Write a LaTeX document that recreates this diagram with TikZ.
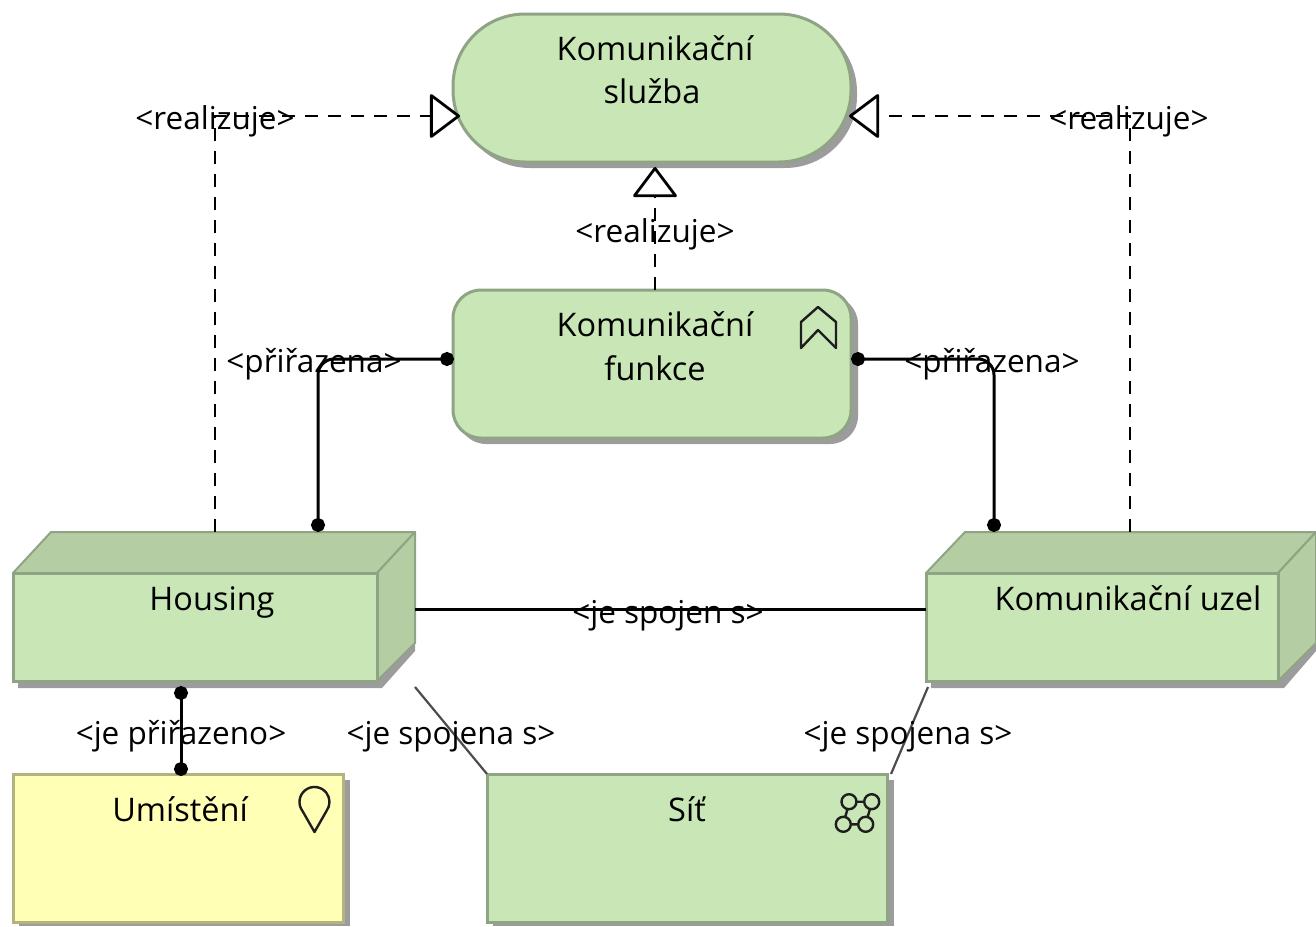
\documentclass[tikz,border=0pt]{standalone}
\usepackage{fontspec}
\setmainfont{Open Sans}
\usetikzlibrary{arrows.meta}
\definecolor{fillgreen}{HTML}{C9E6B6}
\definecolor{topgreen}{HTML}{B4CDA3}
\definecolor{edgegreen}{HTML}{8FA485}
\definecolor{fillyellow}{HTML}{FFFFB5}
\definecolor{edgeyellow}{HTML}{B3B37F}
\definecolor{shadowgrey}{HTML}{9C9C9C}
\definecolor{inkdark}{HTML}{1E1E1E}
\tikzset{
  shapebox/.style={draw=edgegreen,fill=fillgreen,line width=3pt,inner sep=0pt,outer sep=0pt},
  yellowbox/.style={draw=edgeyellow,fill=fillyellow,line width=3pt,inner sep=0pt,outer sep=0pt},
  ghost/.style={inner sep=0pt,outer sep=0pt},
  shadowfill/.style={fill=shadowgrey,draw=none},
  sideface/.style={fill=topgreen,draw=edgegreen,line width=2pt,line join=round},
  nodetext/.style={anchor=base,inner sep=0pt,font=\fontsize{32.5}{36}\selectfont,text=black},
  rellabel/.style={anchor=base,inner sep=0pt,font=\fontsize{31.5}{36}\selectfont,text=black},
  realizes/.style={line width=2.8pt,dash pattern=on 13pt off 10pt,
    -{Triangle[open,length=31pt,width=46pt,fill=white,line join=round]}},
  assigned/.style={line width=3pt,rounded corners=16pt},
  plainlink/.style={line width=3pt},
  thinlink/.style={line width=2.2pt,draw=black!70},
  iconline/.style={draw=inkdark,line width=2.4pt,line join=round}
}
\begin{document}
\begin{tikzpicture}[x=1pt,y=-1pt]
\useasboundingbox (0,0) rectangle (1316,926);
\clip (0,0) rectangle (1316,926);

% shadows
\fill[shadowfill,rounded corners=72pt] (458,20) rectangle (857,168);
\fill[shadowfill,rounded corners=28pt] (458,296) rectangle (858,444);
\fill[shadowfill] (18,600) -- (415,600) -- (415,651) -- (382,688) -- (18,688) -- cycle;
\fill[shadowfill] (931,600) -- (1316,600) -- (1316,651) -- (1284,688) -- (931,688) -- cycle;
\fill[shadowfill] (19,780) rectangle (350,926);
\fill[shadowfill] (493,780) rectangle (894,926);

% shapes
\node[shapebox,rounded corners=72pt,minimum width=398pt,minimum height=148pt] (service) at (652,88) {};
\node[shapebox,rounded corners=28pt,minimum width=398pt,minimum height=148pt] (func) at (652,364) {};

\node[ghost,minimum width=402pt,minimum height=149pt] (housingbox) at (214,606.5) {};
\draw[sideface] (13,573) -- (51,532) -- (415,532) -- (377,573) -- cycle;
\draw[sideface] (377,573) -- (415,532) -- (415,643) -- (377,681) -- cycle;
\node[shapebox,minimum width=364pt,minimum height=108pt] (housing) at (195,627) {};

\node[ghost,minimum width=390pt,minimum height=149pt] (uzelbox) at (1121,606.5) {};
\draw[sideface] (926,573) -- (965,532) -- (1316,532) -- (1278,573) -- cycle;
\draw[sideface] (1278,573) -- (1316,532) -- (1316,643) -- (1278,681) -- cycle;
\node[shapebox,minimum width=352pt,minimum height=108pt] (uzel) at (1102,627) {};

\node[yellowbox,minimum width=330pt,minimum height=148pt] (umisteni) at (178,848) {};
\node[shapebox,minimum width=400pt,minimum height=148pt] (sit) at (687,848) {};

% icons
\draw[iconline] (801,322) -- (818,307) -- (836,322) -- (836,348) -- (818,330) -- (801,348) -- cycle;
\draw[iconline] (314.5,832) -- (302.5,811) arc[start angle=217,end angle=-37,radius=15pt] -- cycle;
\draw[iconline] (849,801.7) circle[radius=7.5pt] (871.7,801.7) circle[radius=7.5pt]
  (843.3,824.3) circle[radius=7.5pt] (865.7,824.3) circle[radius=7.5pt]
  (856.5,801.7) -- (864.2,801.7) (850.8,824.3) -- (858.2,824.3)
  (847.5,809) -- (845.2,817) (870,809) -- (867.6,817);

% connectors
\draw[realizes] ([xshift=1pt]housingbox.north) |- ([xshift=7pt,yshift=-28pt]service.west);
\draw[realizes] ([xshift=9pt]uzelbox.north) |- ([xshift=-2pt,yshift=-28pt]service.east);
\draw[realizes] ([xshift=3pt]func.north) -- ([xshift=3pt,yshift=-5pt]service.south);
\draw[assigned,{Circle[length=14pt,width=14pt]}-{Circle[length=14pt,width=14pt]}]
  ([xshift=1pt,yshift=5pt]func.west) -| ([xshift=104pt]housingbox.north);
\draw[assigned,{Circle[length=14pt,width=14pt]}-{Circle[length=14pt,width=14pt]}]
  ([yshift=5pt]func.east) -| ([xshift=-127pt]uzelbox.north);
\draw[plainlink] ([yshift=18pt]housingbox.east |- uzel.west) -- ([yshift=18pt]uzel.west);
\draw[plainlink,{Circle[length=14pt,width=14pt]}-{Circle[length=14pt,width=14pt]}]
  ([xshift=-14pt,yshift=-5pt]housing.south) -- ([xshift=3pt,yshift=-2pt]umisteni.north);
\draw[thinlink] ([yshift=-6pt]housingbox.south east) -- (sit.north west);
\draw[thinlink] ([xshift=2pt,yshift=-6pt]uzel.south west) -- ([xshift=4pt]sit.north east);

% node texts
\node[nodetext] (t1) at (655,60) {Komunikační};
\node[nodetext] (t2) at (652,103) {služba};
\node[nodetext] (t3) at (655,336) {Komunikační};
\node[nodetext] (t4) at (655,380) {funkce};
\node[nodetext] (t5) at (212,610) {Housing};
\node[nodetext] (t6) at (1128,610) {Komunikační uzel};
\node[nodetext] (t7) at (180,821) {Umístění};
\node[nodetext] (t8) at (687,821) {Síť};

% relation labels
\node[rellabel] (l1) at (215,129) {<realizuje>};
\node[rellabel] (l2) at (1129,129) {<realizuje>};
\node[rellabel] (l3) at (655,242) {<realizuje>};
\node[rellabel] (l4) at (314,372) {<přiřazena>};
\node[rellabel] (l5) at (992,372) {<přiřazena>};
\node[rellabel] (l6) at (668,623) {<je spojen s>};
\node[rellabel] (l7) at (181,744) {<je přiřazeno>};
\node[rellabel] (l8) at (451,744) {<je spojena s>};
\node[rellabel] (l9) at (908,744) {<je spojena s>};
\end{tikzpicture}
\end{document}
